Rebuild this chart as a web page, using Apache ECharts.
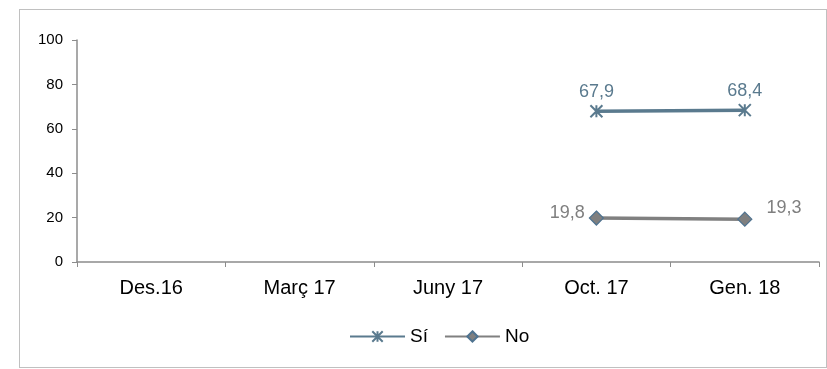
<!DOCTYPE html>
<html><head><meta charset="utf-8">
<script src="https://cdn.jsdelivr.net/npm/echarts@6/dist/echarts.min.js"></script>
<style>html,body{margin:0;padding:0;background:#fff}#c{width:827px;height:369px}
#frame{position:absolute;left:19px;top:9px;width:806px;height:357px;border:1px solid #c0c0c0;pointer-events:none}</style>
</head><body><div id="c"></div><div id="frame"></div>
<script>
const categories = ['Des.16', 'Març 17', 'Juny 17', 'Oct. 17', 'Gen. 18'];
const siValues = [null, null, null, 67.9, 68.4];
const noValues = [null, null, null, 19.8, 19.3];
const yTicks = [0, 20, 40, 60, 80, 100];

const chart = echarts.init(document.getElementById('c'));
const fmt = p => String(p.value).replace('.', ',');
chart.setOption({
  animation: false,
  textStyle: { fontFamily: 'Liberation Sans, Arial, sans-serif' },
  grid: { left: 77, right: 8, top: 40, bottom: 107 },
  legend: {
    top: 322, left: 344, itemWidth: 55, itemHeight: 13, itemGap: 16,
    textStyle: { fontSize: 19, color: '#000' },
    data: ['Sí', 'No']
  },
  xAxis: {
    type: 'category', data: categories, boundaryGap: true,
    axisLine: { lineStyle: { color: '#8c8c8c', width: 1.5 } },
    axisTick: { show: true, alignWithLabel: false, length: 5, lineStyle: { color: '#8c8c8c' } },
    axisLabel: { fontSize: 20, color: '#000', margin: 16 }
  },
  yAxis: {
    type: 'value', min: 0, max: 100, interval: 20,
    axisLine: { show: true, lineStyle: { color: '#8c8c8c', width: 1.5 } },
    axisTick: { show: true, length: 5, lineStyle: { color: '#8c8c8c' } },
    splitLine: { show: false },
    axisLabel: { fontSize: 15, color: '#000', margin: 14,
      formatter: v => yTicks.includes(v) ? String(v) : '' }
  },
  series: [
    {
      name: 'Sí', type: 'line', data: siValues, connectNulls: false,
      symbol: 'path://M0,0L10,10M10,0L0,10M5,0L5,10', symbolSize: 12,
      lineStyle: { color: '#5a7a8e', width: 3.5 },
      itemStyle: { color: '#5a7a8e', borderColor: '#5a7a8e', borderWidth: 2 },
      label: { show: true, position: 'top', distance: 3, fontSize: 18, color: '#5a7a8e', formatter: fmt }
    },
    {
      name: 'No', type: 'line', data: noValues.map((v, i) => i === 4 && v != null
          ? { value: v, label: { position: 'right', offset: [10, -11] } } : v),
      connectNulls: false,
      symbol: 'diamond', symbolSize: 14,
      lineStyle: { color: '#808080', width: 3.5 },
      itemStyle: { color: '#7f7f7f', borderColor: '#4f7390', borderWidth: 1.2 },
      label: { show: true, fontSize: 18, color: '#7f7f7f', formatter: fmt,
        position: 'left', distance: 4, offset: [0, -5] }
    }
  ]
});
</script></body></html>
